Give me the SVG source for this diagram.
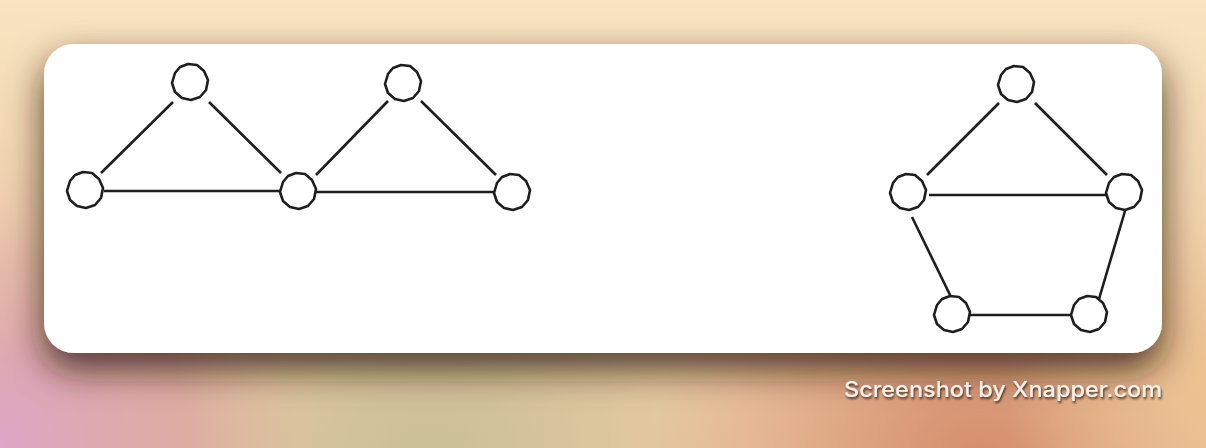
<svg xmlns="http://www.w3.org/2000/svg" xmlns:xlink="http://www.w3.org/1999/xlink" width="1206" height="448" viewBox="0 0 1206 448">
<defs>
<style>
.edge{stroke:#1e1e1e;stroke-width:2.6;stroke-linecap:butt;fill:none}
.node{fill:#fff;stroke:#1e1e1e;stroke-width:2.6;stroke-linejoin:round}
.wm{font-family:Inter,"Liberation Sans",Arial,sans-serif;font-weight:500;font-size:21px;fill:#f4efea}
</style>
<linearGradient id="top" x1="0" y1="0" x2="0" y2="1">
<stop offset="0" stop-color="#f9e5c2"/>
<stop offset="0.4" stop-color="#f5dcb8" stop-opacity="0.6"/>
<stop offset="0.8" stop-color="#f5dcb8" stop-opacity="0"/>
</linearGradient>
<radialGradient id="bl" cx="0" cy="448" r="320" gradientUnits="userSpaceOnUse">
<stop offset="0" stop-color="#dea6c8"/>
<stop offset="0.6" stop-color="#d89aa2" stop-opacity="0.6"/>
<stop offset="1" stop-color="#e6b4a8" stop-opacity="0"/>
</radialGradient>
<radialGradient id="bm" cx="430" cy="460" r="320" gradientUnits="userSpaceOnUse">
<stop offset="0" stop-color="#c9bf96"/>
<stop offset="1" stop-color="#c9bf96" stop-opacity="0"/>
</radialGradient>
<radialGradient id="br" cx="980" cy="470" r="330" gradientUnits="userSpaceOnUse">
<stop offset="0" stop-color="#d48c6c"/>
<stop offset="1" stop-color="#d48c6c" stop-opacity="0"/>
</radialGradient>
<radialGradient id="rr" cx="1206" cy="380" r="200" gradientUnits="userSpaceOnUse">
<stop offset="0" stop-color="#ecc292"/>
<stop offset="1" stop-color="#ecc292" stop-opacity="0"/>
</radialGradient>
<filter id="cardShadow" x="-10%" y="-30%" width="120%" height="180%">
<feDropShadow dx="0" dy="16" stdDeviation="18" flood-color="#2a1a08" flood-opacity="0.8"/>
</filter>
<filter id="textShadow" x="-5%" y="-30%" width="110%" height="170%">
<feDropShadow dx="1" dy="2" stdDeviation="0.8" flood-color="#1a0e06" flood-opacity="0.75"/>
</filter>
<polygon id="nodeShape" class="node" points="-2,-18 7,-17 14,-11 18,-2 16,8 10,15 1,18 -8,16 -15,10 -18,1 -15,-9 -10,-15"/>
</defs>

<g id="background">
<rect x="0" y="0" width="1206" height="448" fill="#eccba4"/>
<rect x="0" y="0" width="1206" height="448" fill="url(#bm)"/>
<rect x="0" y="0" width="1206" height="448" fill="url(#br)"/>
<rect x="0" y="0" width="1206" height="448" fill="url(#rr)"/>
<rect x="0" y="0" width="1206" height="448" fill="url(#bl)"/>
<rect x="0" y="0" width="1206" height="448" fill="url(#top)"/>
</g>

<rect id="card" x="44" y="44" width="1118" height="309" rx="30" ry="30" fill="#ffffff" filter="url(#cardShadow)"/>

<g id="connectors">
<line class="edge" x1="101" y1="173" x2="173" y2="102"/>
<line class="edge" x1="209" y1="102" x2="281" y2="173"/>
<line class="edge" x1="104" y1="191" x2="285" y2="191"/>
<line class="edge" x1="316" y1="175" x2="388" y2="101"/>
<line class="edge" x1="421" y1="101" x2="496" y2="175"/>
<line class="edge" x1="314" y1="192" x2="499" y2="192"/>
<line class="edge" x1="927" y1="175" x2="999" y2="103"/>
<line class="edge" x1="1035" y1="103" x2="1107" y2="175"/>
<line class="edge" x1="929" y1="195" x2="1108" y2="195"/>
<line class="edge" x1="912" y1="217" x2="951" y2="297"/>
<line class="edge" x1="1125" y1="211" x2="1099" y2="299"/>
<line class="edge" x1="969" y1="315" x2="1075" y2="315"/>
</g>

<g id="n1"><use xlink:href="#nodeShape" href="#nodeShape" x="190" y="82"/></g>
<g id="n2"><use xlink:href="#nodeShape" href="#nodeShape" x="85" y="190"/></g>
<g id="n3"><use xlink:href="#nodeShape" href="#nodeShape" x="298" y="191"/></g>
<g id="n4"><use xlink:href="#nodeShape" href="#nodeShape" x="403" y="83"/></g>
<g id="n5"><use xlink:href="#nodeShape" href="#nodeShape" x="512" y="192"/></g>
<g id="n6"><use xlink:href="#nodeShape" href="#nodeShape" x="1016" y="84"/></g>
<g id="n7"><use xlink:href="#nodeShape" href="#nodeShape" x="908" y="192"/></g>
<g id="n8"><use xlink:href="#nodeShape" href="#nodeShape" x="1124" y="192"/></g>
<g id="n9"><use xlink:href="#nodeShape" href="#nodeShape" x="952" y="314"/></g>
<g id="n10"><use xlink:href="#nodeShape" href="#nodeShape" x="1089" y="314"/></g>

<text class="wm" x="1162" y="397" text-anchor="end" textLength="318" lengthAdjust="spacingAndGlyphs" filter="url(#textShadow)">Screenshot by Xnapper.com</text>
</svg>
